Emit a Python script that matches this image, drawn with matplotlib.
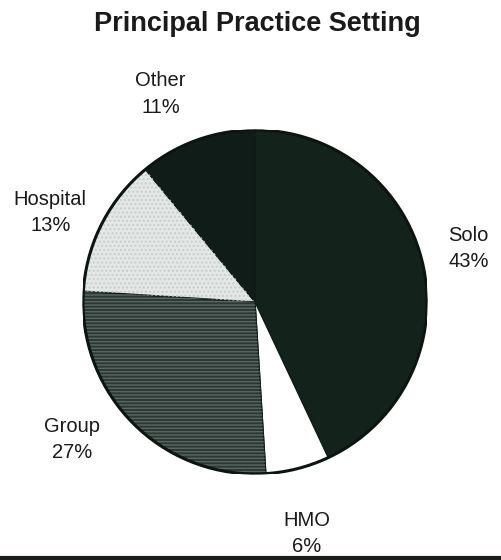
import matplotlib.pyplot as plt
from matplotlib.patches import Wedge
from matplotlib.lines import Line2D

plt.rcParams['font.family'] = ['Liberation Sans', 'DejaVu Sans']

# data
labels = ['Solo', 'HMO', 'Group', 'Hospital', 'Other']
shares = [43, 6, 27, 13, 11]
colors = ['#13231c', '#ffffff', '#2c3833', '#e3e7e5', '#101c17']
hatches = [None, None, '-----', '....', None]

# label positions (data coords, pie radius = 1)
label_pos = [(1.24, 0.31), (0.30, -1.345), (-1.065, -0.80), (-1.19, 0.52), (-0.55, 1.21)]

fig = plt.figure(figsize=(5.01, 5.6), dpi=100)
ax = fig.add_axes([0.1657, 0.1536, 0.6866, 0.6143])

wedges, _ = ax.pie(shares, colors=colors, startangle=90, counterclock=False,
                   wedgeprops=dict(edgecolor='#0f1c16', linewidth=1.0))

# texture overlay for the shaded wedges
for w, h in zip(wedges, hatches):
    if h:
        ov = Wedge(w.center, w.r, w.theta1, w.theta2, fill=False,
                   edgecolor='#5a6661' if h == '-----' else '#c8cecb',
                   linewidth=0, hatch=h)
        ax.add_patch(ov)

# outer rim
ax.add_patch(Wedge((0, 0), 1, 0, 360, fill=False, edgecolor='#0c1510', linewidth=2.2))

for lab, pct, (x, y) in zip(labels, shares, label_pos):
    ax.text(x, y, f'{lab}\n{pct}%', ha='center', va='center', fontsize=14.5,
            linespacing=1.5, color='#1a1a1a', clip_on=False)

ax.set_xlim(-1, 1)
ax.set_ylim(-1, 1)
ax.set_aspect('equal')
ax.axis('off')

fig.text(0.513, 0.958, 'Principal Practice Setting', ha='center', va='center',
         fontsize=19.5, fontweight='bold', color='#1a1a1a')

fig.add_artist(Line2D([0, 1], [0.003, 0.003], transform=fig.transFigure,
                      color='#1a1f1c', linewidth=3))

fig.savefig('out.png', dpi=100, facecolor='white')
